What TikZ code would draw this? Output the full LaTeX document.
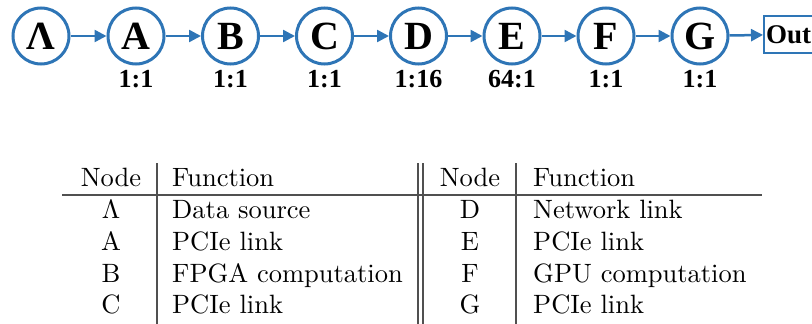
\documentclass[tikz,border=0pt]{standalone}
\usepackage{fontspec}
\newfontfamily\topfont{Liberation Serif}
\newfontfamily\tabfont{lmroman10-regular.otf}
\usetikzlibrary{arrows.meta}
\definecolor{nodeblue}{RGB}{46,117,182}
\definecolor{rulegray}{RGB}{80,80,80}
\tikzset{
  stage/.style={circle, draw=nodeblue, line width=3pt, minimum size=56pt, inner sep=0pt,
    font=\topfont\bfseries\fontsize{40}{40}\selectfont},
  ratio/.style={anchor=base, font=\topfont\bfseries\fontsize{26}{26}\selectfont},
  flow/.style={draw=nodeblue, line width=2.5pt, -{Triangle[length=12pt,width=12pt]}},
  outbox/.style={draw=nodeblue, line width=2pt, anchor=west, minimum height=37pt, minimum width=48pt,
    inner sep=2pt, font=\topfont\bfseries\fontsize{27}{27}\selectfont},
  cell/.style={anchor=base, font=\tabfont\fontsize{26.5}{30}\selectfont, inner sep=0pt},
  lcell/.style={anchor=base west, font=\tabfont\fontsize{26.5}{30}\selectfont, inner sep=0pt},
  tabrule/.style={draw=rulegray, line width=1.3pt}
}
\begin{document}
\begin{tikzpicture}[x=1pt,y=-1pt]
\useasboundingbox (0,0) rectangle (812,324);
\begin{scope}
\clip (0,0) rectangle (812,324);
% stages
\node[stage] (L) at (41,36) {Λ};
\node[stage] (A) at (136,36) {A};
\node[stage] (B) at (230.5,36) {B};
\node[stage] (C) at (324.5,36) {C};
\node[stage] (D) at (418.5,36) {D};
\node[stage] (E) at (512,36) {E};
\node[stage] (F) at (606,36) {F};
\node[stage] (G) at (700,36) {G};
\node[outbox] (O) at (763,34.5) {Out};
\draw[flow] (L) -- (A);
\draw[flow] (A) -- (B);
\draw[flow] (B) -- (C);
\draw[flow] (C) -- (D);
\draw[flow] (D) -- (E);
\draw[flow] (E) -- (F);
\draw[flow] (F) -- (G);
\draw[flow] (G) -- (O);
% ratios
\node[ratio] (rA) at (136,87.5) {1:1};
\node[ratio] (rB) at (230.5,87.5) {1:1};
\node[ratio] (rC) at (324.5,87.5) {1:1};
\node[ratio] (rD) at (418.5,87.5) {1:16};
\node[ratio] (rE) at (512,87.5) {64:1};
\node[ratio] (rF) at (606,87.5) {1:1};
\node[ratio] (rG) at (700,87.5) {1:1};
\end{scope}
% table rules
\coordinate (h1) at (62,195);
\coordinate (h2) at (762,195);
\draw[tabrule] (h1) -- (h2);
\coordinate (v1t) at (157,163); \coordinate (v1b) at (157,324);
\coordinate (v2t) at (418,163); \coordinate (v2b) at (418,324);
\coordinate (v3t) at (423,163); \coordinate (v3b) at (423,324);
\coordinate (v4t) at (516,163); \coordinate (v4b) at (516,324);
\draw[tabrule] (v1t) -- (v1b);
\draw[tabrule] (v2t) -- (v2b);
\draw[tabrule] (v3t) -- (v3b);
\draw[tabrule] (v4t) -- (v4b);
% left table
\node[cell] (hn1) at (111,186) {Node};
\node[lcell] (hf1) at (172,186) {Function};
\node[cell] (n1) at (111,218) {Λ};
\node[lcell] (f1) at (172,218) {Data source};
\node[cell] (n2) at (111,250) {A};
\node[lcell] (f2) at (172,250) {PCIe link};
\node[cell] (n3) at (111,282) {B};
\node[lcell] (f3) at (172,282) {FPGA computation};
\node[cell] (n4) at (111,313) {C};
\node[lcell] (f4) at (172,313) {PCIe link};
% right table
\node[cell] (hn2) at (470,186) {Node};
\node[lcell] (hf2) at (533,186) {Function};
\node[cell] (n5) at (470,218) {D};
\node[lcell] (f5) at (533,218) {Network link};
\node[cell] (n6) at (470,250) {E};
\node[lcell] (f6) at (533,250) {PCIe link};
\node[cell] (n7) at (470,282) {F};
\node[lcell] (f7) at (533,282) {GPU computation};
\node[cell] (n8) at (470,313) {G};
\node[lcell] (f8) at (533,313) {PCIe link};
\end{tikzpicture}
\end{document}
